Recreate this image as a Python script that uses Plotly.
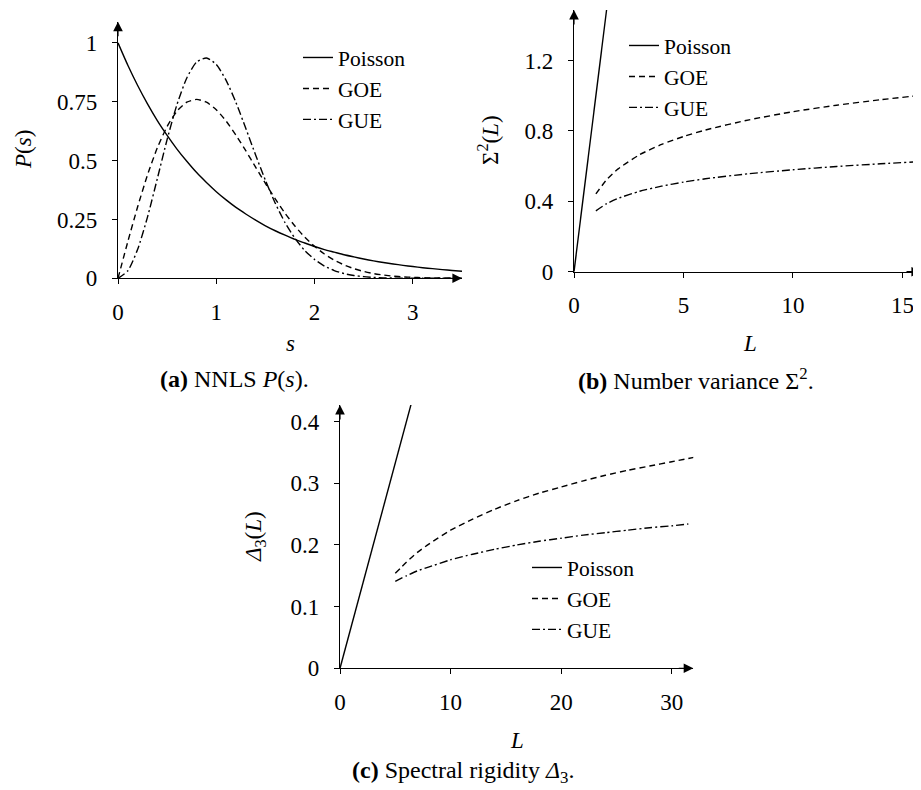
import plotly.graph_objects as go

# ---------- data ----------
# (a) nearest-neighbour level spacing P(s)
s_vals = [0.0, 0.1, 0.2, 0.3, 0.4, 0.5, 0.6, 0.7, 0.8, 0.9, 1.0, 1.1, 1.2, 1.3, 1.4, 1.5,
          1.6, 1.7, 1.8, 1.9, 2.0, 2.1, 2.2, 2.3, 2.4, 2.5, 2.6, 2.7, 2.8, 2.9, 3.0,
          3.1, 3.2, 3.3, 3.4, 3.5]
p_poisson = [1.000, 0.905, 0.819, 0.741, 0.670, 0.607, 0.549, 0.497, 0.449, 0.407, 0.368,
             0.333, 0.301, 0.273, 0.247, 0.223, 0.202, 0.183, 0.165, 0.150, 0.135, 0.122,
             0.111, 0.100, 0.091, 0.082, 0.074, 0.067, 0.061, 0.055, 0.050, 0.045, 0.041,
             0.037, 0.033, 0.030]
p_goe = [0.0, 0.156, 0.304, 0.439, 0.554, 0.645, 0.710, 0.748, 0.760, 0.748, 0.716,
         0.668, 0.608, 0.542, 0.472, 0.403, 0.337, 0.276, 0.222, 0.175, 0.136, 0.103,
         0.077, 0.057, 0.041, 0.029, 0.020, 0.014, 0.009, 0.006, 0.004, 0.0025, 0.0015,
         0.0009, 0.0005, 0.0003]
p_gue = [0.0, 0.032, 0.123, 0.260, 0.423, 0.590, 0.738, 0.851, 0.919, 0.936, 0.908,
         0.841, 0.747, 0.637, 0.524, 0.416, 0.319, 0.236, 0.170, 0.118, 0.080, 0.052,
         0.033, 0.020, 0.012, 0.007, 0.004, 0.002, 0.001, 0.0005, 0.0003, 0.0001, 0.0,
         0.0, 0.0, 0.0]

# (b) number variance Sigma^2(L)
L_b_poisson = [0.0, 1.6]
sig_poisson = [0.0, 1.6]
L_b = [1, 1.5, 2, 3, 4, 5, 6, 8, 10, 12, 14, 16]
sig_goe = [0.442, 0.524, 0.583, 0.665, 0.723, 0.768, 0.805, 0.863, 0.909, 0.946, 0.977, 1.004]
sig_gue = [0.346, 0.387, 0.416, 0.457, 0.486, 0.509, 0.528, 0.557, 0.579, 0.598, 0.613, 0.627]

# (c) spectral rigidity Delta_3(L)
L_c_poisson = [0.0, 6.5]
d3_poisson = [0.0, 0.433]
L_c_goe = [5, 6, 7, 8, 10, 12, 14, 16, 18, 20, 22, 24, 26, 28, 30, 32]
d3_goe = [0.154, 0.172, 0.188, 0.201, 0.224, 0.242, 0.258, 0.272, 0.284, 0.294, 0.304,
          0.313, 0.321, 0.328, 0.335, 0.342]
L_c_gue = [5, 6, 7, 8, 10, 12, 14, 16, 18, 20, 22, 24, 26, 28, 30, 31.5]
d3_gue = [0.141, 0.150, 0.158, 0.164, 0.176, 0.185, 0.193, 0.200, 0.206, 0.211, 0.216,
          0.220, 0.224, 0.228, 0.231, 0.234]

names = ["Poisson", "GOE", "GUE"]

# ---------- style ----------
FONT = "Liberation Serif"
FS = 23
LFS = 21.5
CFS = 24
W, H = 921, 790
OFF = 8  # page body margin
DASHES = ["solid", "6px,4px", "8px,3px,2px,3px"]
LW = 1.4

fig = go.Figure()

def add_lines(xs_list, ys_list, xa, ya, legend):
    for i, (xs, ys) in enumerate(zip(xs_list, ys_list)):
        fig.add_trace(go.Scatter(
            x=xs, y=ys, mode="lines", name=names[i],
            line=dict(color="black", width=LW, dash=DASHES[i], shape="spline", smoothing=0.6),
            xaxis=xa, yaxis=ya, legend=legend, showlegend=True, cliponaxis=True))

add_lines([s_vals, s_vals, s_vals], [p_poisson, p_goe, p_gue], "x", "y", "legend")
add_lines([L_b_poisson, L_b, L_b], [sig_poisson, sig_goe, sig_gue], "x2", "y2", "legend2")
add_lines([L_c_poisson, L_c_goe, L_c_gue], [d3_poisson, d3_goe, d3_gue], "x3", "y3", "legend3")

def px_x(p):
    return (p - OFF) / W

def px_y(p):
    return 1 - (p - OFF) / H

def axis(domain, rng, tickvals, ticktext=None, anchor=None, standoff=6):
    d = dict(domain=domain, range=rng, tickvals=tickvals, showgrid=False, zeroline=False,
             showline=True, linecolor="black", linewidth=1.2, ticks="outside", ticklen=5,
             tickcolor="black", tickwidth=1.1, tickfont=dict(family=FONT, size=FS, color="black"),
             fixedrange=True, anchor=anchor, automargin=False, ticklabeloverflow="allow",
             ticklabelstandoff=standoff)
    if ticktext is not None:
        d["ticktext"] = ticktext
    return d

xa_rng = [0, 3.5]
ya_rng = [0, 1.09]
xb_rng = [0, 15.85]
yb_rng = [0, 1.487]
xc_rng = [0, 31.95]
yc_rng = [0, 0.427]

fig.update_layout(
    width=W, height=H, margin=dict(l=0, r=0, t=0, b=0, autoexpand=False),
    paper_bgcolor="white", plot_bgcolor="white",
    font=dict(family=FONT, size=FS, color="black"),
    xaxis=axis([px_x(118), px_x(462)], xa_rng, [0, 1, 2, 3], anchor="y", standoff=8),
    yaxis=axis([px_y(278.3), px_y(21.7)], ya_rng, [0, 0.25, 0.5, 0.75, 1],
               ["0", "0.25", "0.5", "0.75", "1"], anchor="x", standoff=10),
    xaxis2=axis([px_x(574), px_x(921)], xb_rng, [0, 5, 10, 15], anchor="y2", standoff=8),
    yaxis2=axis([px_y(271.7), px_y(10)], yb_rng, [0, 0.4, 0.8, 1.2], anchor="x2", standoff=10),
    xaxis3=axis([px_x(340), px_x(693.3)], xc_rng, [0, 10, 20, 30], anchor="y3", standoff=8),
    yaxis3=axis([px_y(668.3), px_y(405)], yc_rng, [0, 0.1, 0.2, 0.3, 0.4], anchor="x3", standoff=10),
)

leg_common = dict(bgcolor="rgba(0,0,0,0)", borderwidth=0,
                  font=dict(family=FONT, size=LFS, color="black"),
                  xanchor="left", yanchor="top", tracegroupgap=0, itemwidth=30)
fig.update_layout(
    legend=dict(x=px_x(298), y=px_y(37), **leg_common),
    legend2=dict(x=px_x(624), y=px_y(25), **leg_common),
    legend3=dict(x=px_x(527), y=px_y(547), **leg_common),
)

# axis arrows
arrow = dict(showarrow=True, arrowhead=2, arrowsize=1.6, arrowwidth=1.2, arrowcolor="black", text="")
ann = []
for xa, ya, xr, yr in [("x", "y", xa_rng, ya_rng), ("x2", "y2", xb_rng, yb_rng), ("x3", "y3", xc_rng, yc_rng)]:
    ann.append(dict(x=xr[1], y=0, xref=xa, yref=ya, ax=-16, ay=0, **arrow))
    ann.append(dict(x=0, y=yr[1], xref=xa, yref=ya, ax=0, ay=16, **arrow))

def txt(text, x, y, size=FS, angle=0):
    return dict(text=text, x=px_x(x), y=px_y(y), xref="paper", yref="paper", showarrow=False,
                xanchor="center", yanchor="middle", textangle=angle,
                font=dict(family=FONT, size=size, color="black"))

ann += [
    txt("<i>s</i>", 290, 343),
    txt("<i>L</i>", 750, 343),
    txt("<i>L</i>", 517, 740),
    txt("<i>P</i>(<i>s</i>)", 24, 150, angle=-90),
    txt("Σ<sup>2</sup>(<i>L</i>)", 488, 140, angle=-90),
    txt("<i>Δ</i><sub>3</sub>(<i>L</i>)", 255, 537, angle=-90),
    txt("<b>(a)</b> NNLS <i>P</i>(<i>s</i>).", 234, 379, size=CFS),
    txt("<b>(b)</b> Number variance Σ<sup>2</sup>.", 696, 379, size=CFS),
    txt("<b>(c)</b> Spectral rigidity <i>Δ</i><sub>3</sub>.", 463, 772, size=CFS),
]
fig.update_layout(annotations=ann)

fig.write_html("out.html")
